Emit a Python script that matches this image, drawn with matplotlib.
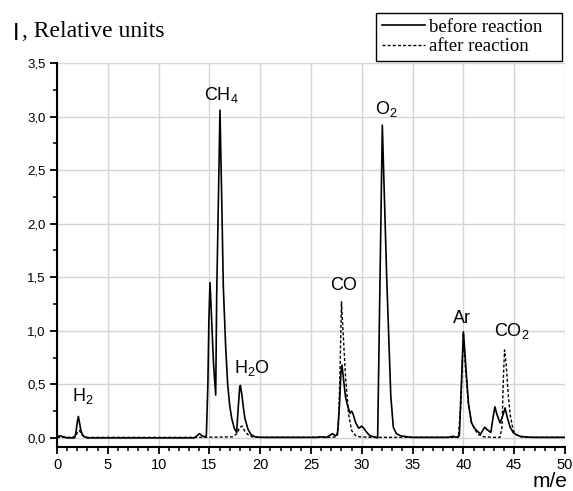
import matplotlib
matplotlib.use("Agg")
import matplotlib.pyplot as plt
from matplotlib.ticker import MultipleLocator, FuncFormatter

plt.rcParams['font.family'] = ['Liberation Sans', 'DejaVu Sans']
plt.rcParams['mathtext.fontset'] = 'custom'
plt.rcParams['mathtext.rm'] = 'Liberation Sans'
plt.rcParams['mathtext.default'] = 'rm'

# before reaction (solid)
mz_before = [0, 0.3, 0.6, 1.0, 1.7, 1.85, 2.0, 2.1, 2.2, 2.35, 2.5, 2.7, 3.0,
             13.5, 13.8, 14.0, 14.2, 14.5, 14.7, 14.85, 14.95, 15.06, 15.2, 15.4, 15.62,
             15.72, 15.9, 16.04, 16.2, 16.37, 16.6, 16.8, 17.0, 17.2, 17.45, 17.68,
             17.85, 17.98, 18.05, 18.2, 18.35, 18.5, 18.8, 19.1, 19.5, 20.0,
             25.5, 26.0, 26.5, 26.8, 27.1, 27.4, 27.6, 27.8, 27.95, 28.05, 28.2, 28.4,
             28.6, 28.85, 29.0, 29.15, 29.4, 29.7, 30.0, 30.2, 30.5, 30.8, 31.2,
             31.56, 32.02, 32.45, 32.85, 33.1, 33.4, 33.8, 34.5, 35.0,
             38.5, 39.0, 39.3, 39.6, 39.8, 40.0, 40.2, 40.5, 40.8, 41.1, 41.4, 41.7,
             41.9, 42.1, 42.3, 42.7, 42.9, 43.1, 43.3, 43.6, 43.85, 44.1, 44.35,
             44.6, 44.9, 45.2, 45.6, 46.2, 47.0, 50.0]
i_before = [0.01, 0.02, 0.01, 0.0, 0.0, 0.04, 0.15, 0.2, 0.15, 0.07, 0.03, 0.01, 0.0,
            0.0, 0.02, 0.04, 0.025, 0.01, 0.02, 0.5, 1.1, 1.45, 1.15, 0.7, 0.4,
            1.35, 2.3, 3.06, 2.3, 1.41, 0.85, 0.5, 0.3, 0.18, 0.09, 0.05,
            0.3, 0.47, 0.49, 0.4, 0.28, 0.18, 0.08, 0.03, 0.01, 0.005,
            0.005, 0.01, 0.005, 0.02, 0.04, 0.02, 0.03, 0.3, 0.62, 0.68, 0.55, 0.38,
            0.3, 0.23, 0.25, 0.22, 0.14, 0.09, 0.11, 0.09, 0.05, 0.02, 0.01,
            0.0, 2.92, 1.5, 0.4, 0.1, 0.04, 0.02, 0.01, 0.005,
            0.005, 0.015, 0.005, 0.02, 0.5, 0.99, 0.72, 0.32, 0.14, 0.09, 0.06, 0.035,
            0.07, 0.1, 0.08, 0.05, 0.18, 0.29, 0.22, 0.14, 0.2, 0.28, 0.18,
            0.1, 0.05, 0.03, 0.015, 0.008, 0.005, 0.005]

# after reaction (dashed)
mz_after = [0, 1.0, 1.8, 2.0, 2.2, 2.4, 2.6, 3.0, 14.0, 17.3, 17.7, 18.0, 18.2,
            18.5, 18.8, 19.2, 20.0, 27.0, 27.5, 27.7, 27.85, 28.0, 28.15, 28.4,
            28.7, 29.0, 29.4, 29.8, 31.0, 35.0, 39.5, 39.75, 40.0, 40.2, 40.5,
            40.8, 41.1, 41.5, 42.0, 43.0, 43.6, 43.8, 43.95, 44.05, 44.2, 44.4,
            44.6, 44.9, 45.2, 45.6, 46.5, 50.0]
i_after = [0.005, 0.005, 0.01, 0.05, 0.07, 0.04, 0.015, 0.005, 0.005, 0.01, 0.04,
           0.1, 0.11, 0.06, 0.03, 0.01, 0.005, 0.005, 0.01, 0.1, 0.6, 1.27, 1.0,
           0.57, 0.22, 0.07, 0.02, 0.01, 0.005, 0.005, 0.005, 0.3, 0.98, 0.65,
           0.3, 0.14, 0.08, 0.03, 0.01, 0.005, 0.005, 0.1, 0.6, 0.82, 0.7, 0.42,
           0.22, 0.07, 0.03, 0.01, 0.005, 0.005]

peak_names = ['H$_2$', 'CH$_4$', 'H$_2$O', 'CO', 'O$_2$', 'Ar', 'CO$_2$']
peak_pos = [(1.45, 0.34), (14.5, 3.15), (17.45, 0.61), (26.9, 1.38),
            (31.3, 3.02), (38.95, 1.07), (43.0, 0.95)]

fig = plt.figure(figsize=(5.73, 4.91), dpi=100)
ax = fig.add_axes([57 / 573, 1 - 447 / 491, 508 / 573, (447 - 63) / 491])

ax.plot(mz_before, i_before, color='black', lw=1.2, label='before reaction')
ax.plot(mz_after, i_after, color='black', lw=1.0, dashes=(2.2, 1.5),
        label='after reaction')

for name, (px, py) in zip(peak_names, peak_pos):
    ax.text(px, py, name, fontsize=13, ha='left', va='baseline')

ax.set_xlim(0, 50)
ax.set_ylim(-0.085, 3.5)
ax.xaxis.set_major_locator(MultipleLocator(5))
ax.xaxis.set_minor_locator(MultipleLocator(1))
ax.yaxis.set_major_locator(MultipleLocator(0.5))
ax.yaxis.set_minor_locator(MultipleLocator(0.25))
ax.yaxis.set_major_formatter(FuncFormatter(lambda v, p: f"{v:.1f}".replace('.', ',')))
ax.tick_params(axis='x', labelsize=10.5, pad=3)
ax.tick_params(axis='y', labelsize=9.5, pad=3)
ax.tick_params(which='major', length=5, width=1.3, direction='out')
ax.tick_params(which='minor', length=3, width=1.1, direction='out')
ax.grid(True, which='major', color='#d4d4d4', lw=1.0)
ax.set_axisbelow(True)
for side in ('top', 'right'):
    ax.spines[side].set_visible(False)
for side in ('left', 'bottom'):
    ax.spines[side].set_linewidth(1.5)

leg = ax.legend(loc='upper right', bbox_to_anchor=(562 / 573, 1 - 13 / 491),
                bbox_transform=fig.transFigure, prop={'family': 'Liberation Serif', 'size': 13.5},
                frameon=True, fancybox=False, handlelength=2.3, handletextpad=0.2,
                labelspacing=0.12, borderpad=0.3, borderaxespad=0)
leg.get_frame().set_edgecolor('black')
leg.get_frame().set_linewidth(1.0)
leg.get_frame().set_alpha(1)
# reference box is wider than its content on the right
for t in leg.get_texts():
    t.set_text(t.get_text() + '   ')

fig.text(13 / 573, 1 - 40 / 491, 'I', fontsize=17, ha='left', va='baseline')
fig.text(22 / 573, 1 - 37 / 491, ', Relative units', family='Liberation Serif',
         fontsize=17, ha='left', va='baseline')
fig.text(567 / 573, 1 - 487 / 491, 'm/e', fontsize=15, ha='right', va='baseline')

fig.savefig('out.png', dpi=100)
